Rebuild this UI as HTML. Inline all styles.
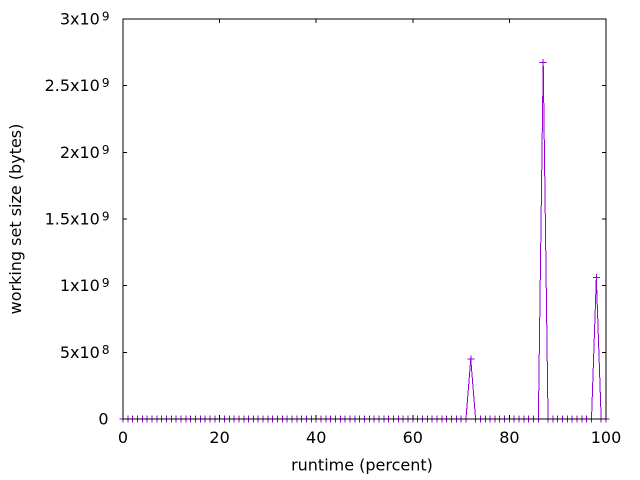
<!DOCTYPE html>
<html><head><meta charset="utf-8"><style>
html,body{margin:0;padding:0;background:#fff;}
svg{display:block;}
text{font-family:"DejaVu Sans","Liberation Sans",sans-serif;font-size:16px;fill:#000;}
.sup{font-size:12px;}
</style></head><body>
<svg width="640" height="480" viewBox="0 0 640 480" xmlns="http://www.w3.org/2000/svg">
<rect width="640" height="480" fill="#fff"/>
<!-- series -->
<g fill="none" stroke="#9400d3" stroke-width="1" shape-rendering="crispEdges">
<polyline points="123,419 465.93,419 470.76,359 475.59,419 538.38,419 543.21,62.3 548.04,419 591.51,419 596.34,277.7 601.17,419 606,419"/>
<path d="M119.5 419h7M123 415.5v7 M124.33 419h7M127.83 415.5v7 M129.16 419h7M132.66 415.5v7 M133.99 419h7M137.49 415.5v7 M138.82 419h7M142.32 415.5v7 M143.65 419h7M147.15 415.5v7 M148.48 419h7M151.98 415.5v7 M153.31 419h7M156.81 415.5v7 M158.14 419h7M161.64 415.5v7 M162.97 419h7M166.47 415.5v7 M167.8 419h7M171.3 415.5v7 M172.63 419h7M176.13 415.5v7 M177.46 419h7M180.96 415.5v7 M182.29 419h7M185.79 415.5v7 M187.12 419h7M190.62 415.5v7 M191.95 419h7M195.45 415.5v7 M196.78 419h7M200.28 415.5v7 M201.61 419h7M205.11 415.5v7 M206.44 419h7M209.94 415.5v7 M211.27 419h7M214.77 415.5v7 M216.1 419h7M219.6 415.5v7 M220.93 419h7M224.43 415.5v7 M225.76 419h7M229.26 415.5v7 M230.59 419h7M234.09 415.5v7 M235.42 419h7M238.92 415.5v7 M240.25 419h7M243.75 415.5v7 M245.08 419h7M248.58 415.5v7 M249.91 419h7M253.41 415.5v7 M254.74 419h7M258.24 415.5v7 M259.57 419h7M263.07 415.5v7 M264.4 419h7M267.9 415.5v7 M269.23 419h7M272.73 415.5v7 M274.06 419h7M277.56 415.5v7 M278.89 419h7M282.39 415.5v7 M283.72 419h7M287.22 415.5v7 M288.55 419h7M292.05 415.5v7 M293.38 419h7M296.88 415.5v7 M298.21 419h7M301.71 415.5v7 M303.04 419h7M306.54 415.5v7 M307.87 419h7M311.37 415.5v7 M312.7 419h7M316.2 415.5v7 M317.53 419h7M321.03 415.5v7 M322.36 419h7M325.86 415.5v7 M327.19 419h7M330.69 415.5v7 M332.02 419h7M335.52 415.5v7 M336.85 419h7M340.35 415.5v7 M341.68 419h7M345.18 415.5v7 M346.51 419h7M350.01 415.5v7 M351.34 419h7M354.84 415.5v7 M356.17 419h7M359.67 415.5v7 M361 419h7M364.5 415.5v7 M365.83 419h7M369.33 415.5v7 M370.66 419h7M374.16 415.5v7 M375.49 419h7M378.99 415.5v7 M380.32 419h7M383.82 415.5v7 M385.15 419h7M388.65 415.5v7 M389.98 419h7M393.48 415.5v7 M394.81 419h7M398.31 415.5v7 M399.64 419h7M403.14 415.5v7 M404.47 419h7M407.97 415.5v7 M409.3 419h7M412.8 415.5v7 M414.13 419h7M417.63 415.5v7 M418.96 419h7M422.46 415.5v7 M423.79 419h7M427.29 415.5v7 M428.62 419h7M432.12 415.5v7 M433.45 419h7M436.95 415.5v7 M438.28 419h7M441.78 415.5v7 M443.11 419h7M446.61 415.5v7 M447.94 419h7M451.44 415.5v7 M452.77 419h7M456.27 415.5v7 M457.6 419h7M461.1 415.5v7 M462.43 419h7M465.93 415.5v7 M467.26 359h7M470.76 355.5v7 M472.09 419h7M475.59 415.5v7 M476.92 419h7M480.42 415.5v7 M481.75 419h7M485.25 415.5v7 M486.58 419h7M490.08 415.5v7 M491.41 419h7M494.91 415.5v7 M496.24 419h7M499.74 415.5v7 M501.07 419h7M504.57 415.5v7 M505.9 419h7M509.4 415.5v7 M510.73 419h7M514.23 415.5v7 M515.56 419h7M519.06 415.5v7 M520.39 419h7M523.89 415.5v7 M525.22 419h7M528.72 415.5v7 M530.05 419h7M533.55 415.5v7 M534.88 419h7M538.38 415.5v7 M539.71 62.3h7M543.21 58.8v7 M544.54 419h7M548.04 415.5v7 M549.37 419h7M552.87 415.5v7 M554.2 419h7M557.7 415.5v7 M559.03 419h7M562.53 415.5v7 M563.86 419h7M567.36 415.5v7 M568.69 419h7M572.19 415.5v7 M573.52 419h7M577.02 415.5v7 M578.35 419h7M581.85 415.5v7 M583.18 419h7M586.68 415.5v7 M588.01 419h7M591.51 415.5v7 M592.84 277.7h7M596.34 274.2v7 M597.67 419h7M601.17 415.5v7 M602.5 419h7M606 415.5v7"/>
</g>
<!-- border and ticks -->
<g fill="none" stroke="#000" stroke-width="1" shape-rendering="crispEdges">
<rect x="123" y="19" width="483" height="400"/>
<path d="M123 352.33h4M123 285.67h4M123 219h4M123 152.33h4M123 85.67h4
M606 352.33h-4M606 285.67h-4M606 219h-4M606 152.33h-4M606 85.67h-4
M219.6 419v-4M316.2 419v-4M412.8 419v-4M509.4 419v-4
M219.6 19v4M316.2 19v4M412.8 19v4M509.4 19v4"/>
</g>
<!-- y tick labels -->
<g text-anchor="end">
<text x="108.5" y="424.5">0</text>
<text x="109.5" y="357.8">5x10<tspan class="sup" dx="2" dy="-4">8</tspan></text>
<text x="109.5" y="291.2">1x10<tspan class="sup" dx="2" dy="-4">9</tspan></text>
<text x="109.5" y="224.5">1.5x10<tspan class="sup" dx="2" dy="-4">9</tspan></text>
<text x="109.5" y="157.8">2x10<tspan class="sup" dx="2" dy="-4">9</tspan></text>
<text x="109.5" y="91.2">2.5x10<tspan class="sup" dx="2" dy="-4">9</tspan></text>
<text x="109.5" y="24.5">3x10<tspan class="sup" dx="2" dy="-4">9</tspan></text>
</g>
<!-- x tick labels -->
<g text-anchor="middle">
<text x="123" y="443">0</text>
<text x="219.6" y="443">20</text>
<text x="316.2" y="443">40</text>
<text x="412.8" y="443">60</text>
<text x="509.4" y="443">80</text>
<text x="606" y="443">100</text>
</g>
<text x="362" y="470.5" text-anchor="middle">runtime (percent)</text>
<text transform="translate(21,219) rotate(-90)" text-anchor="middle">working set size (bytes)</text>
</svg>
</body></html>
